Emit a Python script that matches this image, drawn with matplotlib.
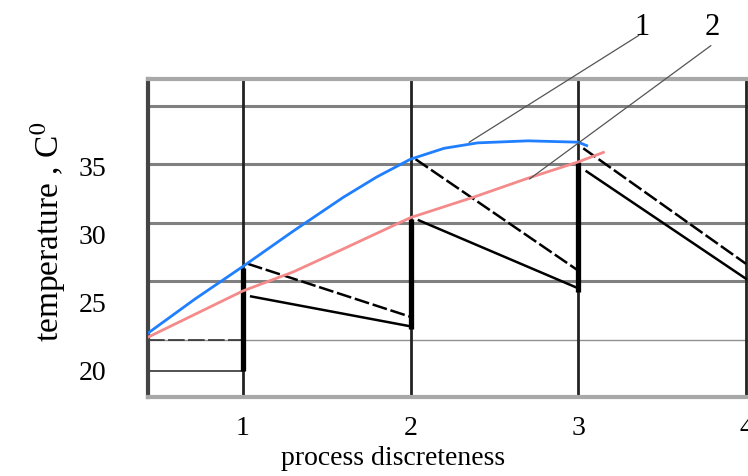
import numpy as np
import matplotlib
matplotlib.use("Agg")
import matplotlib.pyplot as plt

plt.rcParams['font.family'] = ['Liberation Serif', 'DejaVu Serif']
plt.rcParams['mathtext.fontset'] = 'stix'

# curve 1 (blue) and curve 2 (red)
blue_x = [0.435, 0.714, 1.0, 1.3, 1.6, 1.8, 2.0, 2.2, 2.4, 2.7, 3.0, 3.05]
blue_y = [22.7, 25.2, 27.6, 30.2, 32.7, 34.2, 35.5, 36.3, 36.7, 36.85, 36.75, 36.5]
red_x = [0.435, 1.0, 1.3, 1.6, 2.0, 2.375, 2.7, 3.0, 3.15]
red_y = [22.4, 25.8, 27.2, 28.9, 31.2, 32.7, 34.1, 35.3, 36.0]

# sawtooth segments between discrete steps
steps = [1, 2, 3]
upper_start = [27.8, 35.5, 36.3]
upper_end = [23.9, 27.3, 27.8]
lower_start = [25.4, 31.0, 34.6]
lower_end = [23.2, 26.0, 26.7]
bar_bottom = [19.9, 23.0, 25.7]
bar_top = [27.5, 31.1, 35.3]

# horizontal reference levels drawn in the scan
grid_levels = [39.4, 35.15, 30.8, 26.5]
thin_level = 22.2
short_level = 19.9

yticks = [20, 25, 30, 35]
xticks = [1, 2, 3, 4]

# callout labels: (label, text x, text y, leader start, leader end)
callouts = [('1', 3.38, 44.7, (3.36, 44.6), (2.35, 36.75)),
            ('2', 3.80, 44.7, (3.79, 43.85), (2.71, 34.05))]

fig = plt.figure(figsize=(7.48, 4.77), dpi=100)
ax = fig.add_axes([148 / 748, 1 - 398 / 477, 600 / 748, 318 / 477])
ax.set_xlim(0.435, 4.012)
ax.set_ylim(18.0, 41.4)

for lv in grid_levels:
    ax.axhline(lv, color='#808080', lw=2.2, zorder=1)
ax.axhline(thin_level, color='#909090', lw=1.0, zorder=1)
ax.plot([0.435, 1.0], [thin_level, thin_level], color='#333333', lw=1.2,
        dashes=[10, 2], zorder=1)
ax.plot([0.435, 1.0], [short_level, short_level], color='#333333', lw=1.2, zorder=1)
for xv in xticks:
    ax.axvline(xv, color='#222222', lw=2.0, zorder=1)

for s in ['top', 'bottom']:
    ax.spines[s].set_color('#a8a8a8')
    ax.spines[s].set_linewidth(3)
ax.spines['left'].set_color('#444444')
ax.spines['left'].set_linewidth(3)
ax.spines['right'].set_visible(False)

for i, xs in enumerate(steps):
    ax.plot([xs, xs], [bar_bottom[i], bar_top[i]], color='black', lw=3.8,
            solid_capstyle='butt', zorder=3)
    ax.plot([xs + 0.03, xs + 1], [upper_start[i], upper_end[i]], color='black',
            lw=1.8, dashes=[6, 1.5], zorder=3)
    ax.plot([xs + 0.05, xs + 1], [lower_start[i], lower_end[i]], color='black',
            lw=1.8, zorder=3)

ax.plot(blue_x, blue_y, color='#1f7fff', lw=2.0, zorder=4)
ax.plot(red_x, red_y, color='#f58a8a', lw=2.0, zorder=4)

# leader lines with labels 1 and 2
for lab, tx, ty, p0, p1 in callouts:
    ax.plot([p0[0], p1[0]], [p0[1], p1[1]], color='#555555', lw=0.9,
            clip_on=False, zorder=5)
    ax.text(tx, ty, lab, fontsize=22, ha='center', va='baseline', clip_on=False)

ax.set_xticks(xticks)
ax.set_yticks(yticks)
ax.tick_params(length=0, labelsize=20)
ax.tick_params(axis='x', pad=13)
ax.tick_params(axis='y', pad=30)

fig.text(393 / 748, 1 - 459 / 477, 'process discreteness', fontsize=20,
         ha='center', va='center')
fig.text(48 / 748, 1 - 232 / 477, 'temperature , C$^0$', fontsize=24,
         rotation=90, ha='center', va='center')

fig.savefig('out.png', dpi=100)
